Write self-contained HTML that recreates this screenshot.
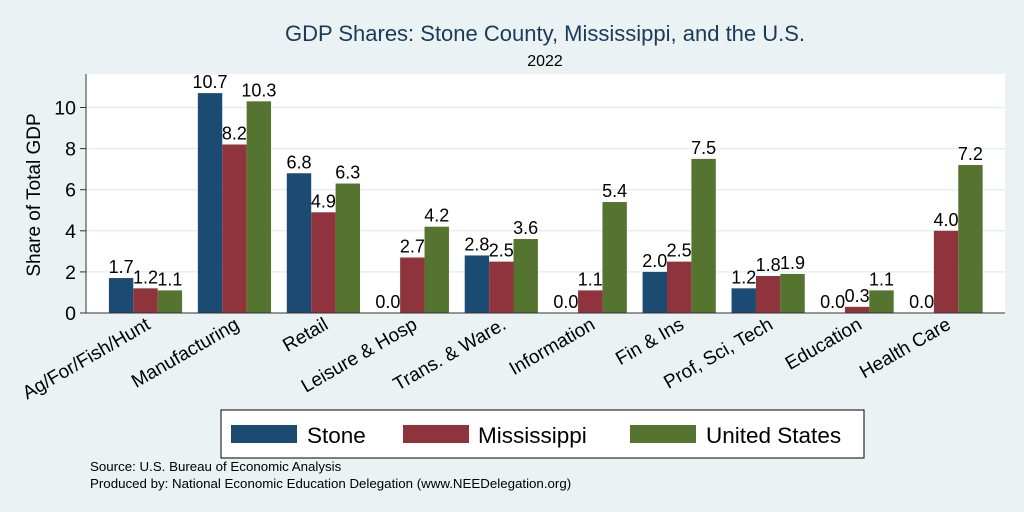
<!DOCTYPE html>
<html><head><meta charset="utf-8"><style>
body{margin:0;background:#eaf2f3;font-family:"Liberation Sans",sans-serif}
svg{display:block}
</style></head><body>
<svg id="c" width="1024" height="512" xmlns="http://www.w3.org/2000/svg">
<rect x="0" y="0" width="1024" height="512" fill="#eaf2f3"/>
<rect x="86" y="74" width="919" height="239" fill="#fff"/>
<text x="545" y="41" font-size="22" text-anchor="middle" fill="#1a3a5c">GDP Shares: Stone County, Mississippi, and the U.S.</text>
<text x="545" y="66" font-size="16" text-anchor="middle" fill="#000">2022</text>
<text transform="translate(40,195) rotate(-90)" font-size="19" text-anchor="middle">Share of Total GDP</text>
<g id="grid"></g><g id="bars"></g><g id="labels"></g>
<line x1="86" y1="74" x2="86" y2="313" stroke="#333" stroke-width="1"/>
<line x1="86" y1="313" x2="1005" y2="313" stroke="#333" stroke-width="1"/>
<g>
<rect x="221" y="410" width="643" height="48" fill="#fff" stroke="#000" stroke-width="1"/>
<rect x="231" y="425" width="66" height="18" fill="#1b4a72"/>
<text x="307" y="443" font-size="22.5">Stone</text>
<rect x="403" y="425" width="66" height="18" fill="#8f343c"/>
<text x="478" y="443" font-size="22.5">Mississippi</text>
<rect x="630" y="425" width="66" height="18" fill="#55742f"/>
<text x="706" y="443" font-size="22.5">United States</text>
</g>
<text x="90" y="471" font-size="13.3">Source: U.S. Bureau of Economic Analysis</text>
<text x="90" y="488" font-size="13.3">Produced by: National Economic Education Delegation (www.NEEDelegation.org)</text>
</svg>
<script>
const categories=["Ag/For/Fish/Hunt","Manufacturing","Retail","Leisure & Hosp","Trans. & Ware.","Information","Fin & Ins","Prof, Sci, Tech","Education","Health Care"];
const stone=[1.7,10.7,6.8,0.0,2.8,0.0,2.0,1.2,0.0,0.0];
const mississippi=[1.2,8.2,4.9,2.7,2.5,1.1,2.5,1.8,0.3,4.0];
const us=[1.1,10.3,6.3,4.2,3.6,5.4,7.5,1.9,1.1,7.2];
const yTicks=[0,2,4,6,8,10];
const NS="http://www.w3.org/2000/svg";
const y=v=>313-v*20.55;
const xc=i=>145.5+i*88.95;
const bw=24.4;
function mk(t,a,p){const e=document.createElementNS(NS,t);for(const k in a)e.setAttribute(k,a[k]);p.appendChild(e);return e;}
const grid=document.getElementById('grid'),bars=document.getElementById('bars'),labels=document.getElementById('labels');
yTicks.forEach(t=>{
 if(t>0){const g=mk('line',{x1:86,x2:1005,y1:y(t),y2:y(t),stroke:'#e6eff0','stroke-width':1.5},grid);
 
 }
 const tk=mk('line',{x1:80,x2:86,y1:y(t),y2:y(t),stroke:'#333'},grid);
 
 
 const tx=mk('text',{x:76,y:y(t)+7,'font-size':19.5,'text-anchor':'end'},grid);tx.textContent=t;
 
 
});
const series=[[stone,'#1b4a72','stone'],[mississippi,'#8f343c','mississippi'],[us,'#55742f','us']];
categories.forEach((c,i)=>{
 series.forEach(([arr,col,nm],s)=>{
  const x0=xc(i)-1.5*bw+s*bw,v=arr[i];
  const r=mk('rect',{x:x0,y:y(v),width:bw,height:313-y(v),fill:col},bars);
  
  
  const t=mk('text',{x:x0+bw/2,y:y(v)-5,'font-size':18,'text-anchor':'middle'},labels);t.textContent=v.toFixed(1);
  
  
 });
 const l=mk('text',{transform:`translate(${xc(i)+6},${328}) rotate(-30)`,'font-size':19,'text-anchor':'end'},labels);l.textContent=c;
 
 
});
</script>
</body></html>
